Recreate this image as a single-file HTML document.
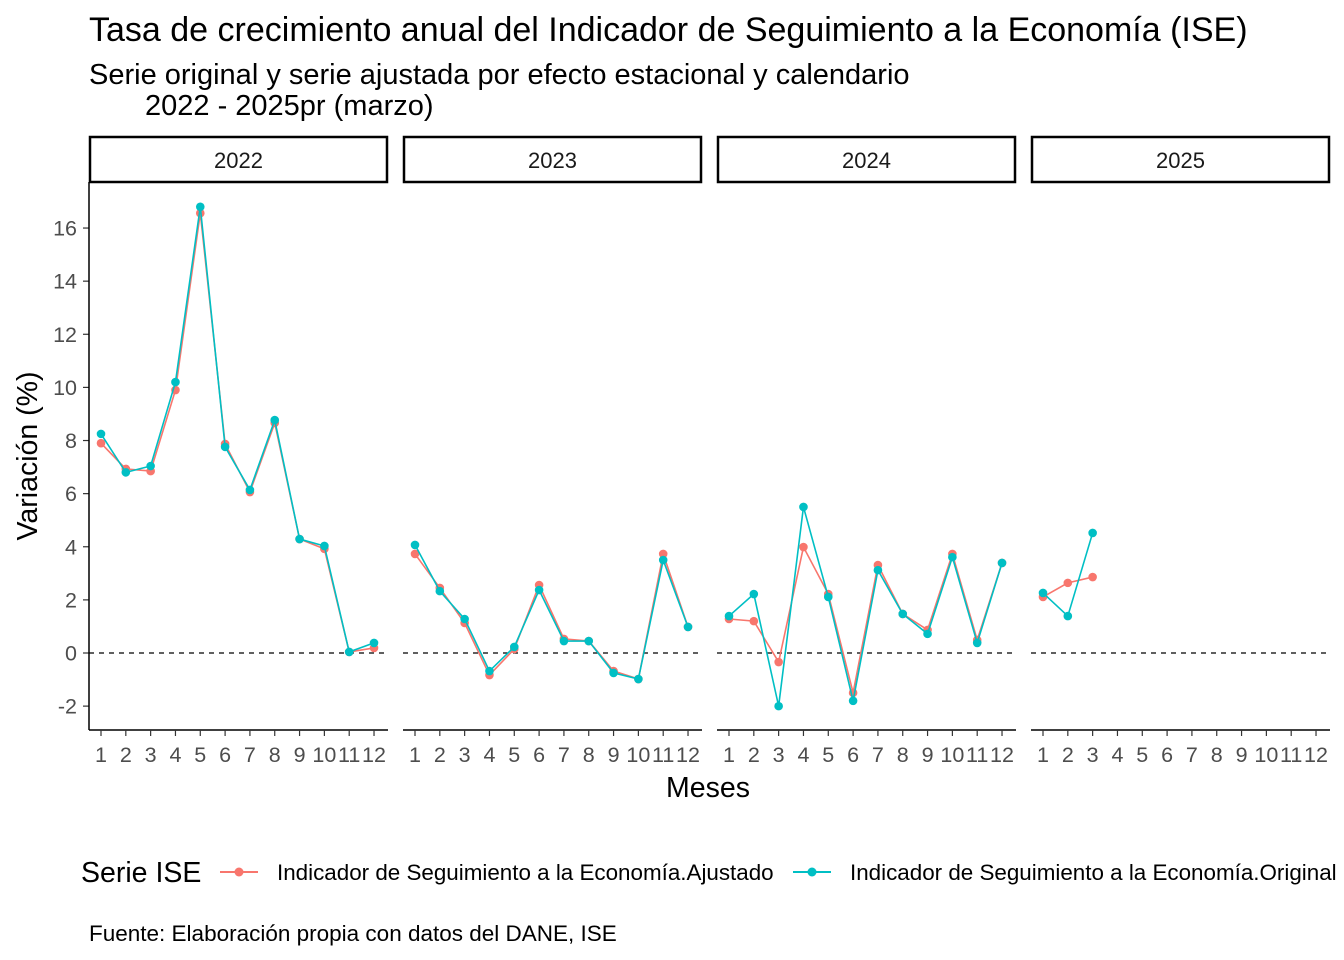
<!DOCTYPE html>
<html><head><meta charset="utf-8"><style>
body{margin:0;background:#fff}
svg{display:block;font-family:"Liberation Sans",sans-serif}
</style></head><body>
<svg id="chart" width="1344" height="960" xmlns="http://www.w3.org/2000/svg">
<text x="89" y="41" font-size="34" fill="#000">Tasa de crecimiento anual del Indicador de Seguimiento a la Economía (ISE)</text>
<text x="89" y="84" font-size="29" fill="#000">Serie original y serie ajustada por efecto estacional y calendario</text>
<text x="145" y="115" font-size="29" fill="#000">2022 - 2025pr (marzo)</text>
<text transform="translate(37,456) rotate(-90)" text-anchor="middle" font-size="28.5" fill="#000">Variación (%)</text>
<text x="708" y="797" text-anchor="middle" font-size="28.5" fill="#000">Meses</text>
<g>
<text x="81" y="882" font-size="28.5">Serie ISE</text>
<g>
<line x1="220" y1="872" x2="258" y2="872" stroke="#F8766D" stroke-width="2"/><circle cx="239" cy="872" r="4.5" fill="#F8766D"/>
<text x="277" y="880" font-size="22.4">Indicador de Seguimiento a la Economía.Ajustado</text></g>
<g>
<line x1="793" y1="872" x2="831" y2="872" stroke="#00BFC4" stroke-width="2"/><circle cx="812" cy="872" r="4.5" fill="#00BFC4"/>
<text x="850" y="880" font-size="22.4">Indicador de Seguimiento a la Economía.Original</text></g>
</g>
<text x="89" y="941" font-size="22.5">Fuente: Elaboración propia con datos del DANE, ISE</text>
<g id="plots"></g>
</svg>
<script>
const years = ["2022","2023","2024","2025"];
const months = [1,2,3,4,5,6,7,8,9,10,11,12];
const yTicks = [-2,0,2,4,6,8,10,12,14,16];
const ajustado2022 = [7.9,6.93,6.85,9.9,16.56,7.87,6.06,8.66,4.29,3.92,0.04,0.19];
const original2022 = [8.25,6.8,7.04,10.2,16.8,7.76,6.14,8.77,4.29,4.03,0.04,0.38];
const ajustado2023 = [3.73,2.45,1.13,-0.83,0.15,2.56,0.53,0.45,-0.68,-0.98,3.73,0.98];
const original2023 = [4.07,2.33,1.28,-0.68,0.23,2.37,0.45,0.45,-0.75,-0.98,3.5,0.98];
const ajustado2024 = [1.28,1.2,-0.34,3.99,2.22,-1.5,3.31,1.47,0.87,3.73,0.49,3.39];
const original2024 = [1.39,2.22,-2.0,5.5,2.11,-1.8,3.12,1.47,0.72,3.61,0.38,3.39];
const ajustado2025 = [2.11,2.64,2.86];
const original2025 = [2.26,1.39,4.52];
const adjSeries=[ajustado2022,ajustado2023,ajustado2024,ajustado2025];
const origSeries=[original2022,original2023,original2024,original2025];

const NS="http://www.w3.org/2000/svg";
const g=document.getElementById('plots');
function mk(tag,attrs,parent){const e=document.createElementNS(NS,tag);for(const k in attrs)e.setAttribute(k,attrs[k]);(parent||g).appendChild(e);return e;}
const panelLeft=[89,403,717,1031], panelW=299, plotTop=182, plotBottom=730;
const yS=v=>653-v*26.56;
function xS(p,m){return panelLeft[p]+12+(m-1)*24.82;}

yTicks.forEach(t=>{
  const tk=mk('line',{x1:83,x2:89,y1:yS(t),y2:yS(t),stroke:'#333','stroke-width':1.2});
  
  
  const lb=mk('text',{x:77,y:yS(t)+7.5,'text-anchor':'end','font-size':21.5,fill:'#4d4d4d'});
  lb.textContent=t;
  
  
});
const ya=mk('line',{x1:89,x2:89,y1:plotTop,y2:plotBottom,stroke:'#000','stroke-width':1.5});



years.forEach((yr,p)=>{
  const L=panelLeft[p];
  const pg=mk('g',{});
  
  
  const st=mk('rect',{x:L+1,y:137,width:panelW-2,height:45,fill:'#fff',stroke:'#000','stroke-width':2.5},pg);
  
  
  const sl=mk('text',{x:L+panelW/2,y:168,'text-anchor':'middle','font-size':22,fill:'#1a1a1a'},pg);
  sl.textContent=yr;
  
  
  const xa=mk('line',{x1:L,x2:L+panelW,y1:plotBottom,y2:plotBottom,stroke:'#000','stroke-width':1.5},pg);
  
  
  const zl=mk('line',{x1:L,x2:L+panelW,y1:yS(0),y2:yS(0),stroke:'#000','stroke-width':1.3,'stroke-dasharray':'5,5'},pg);
  
  
  months.forEach(m=>{
    const t=mk('line',{x1:xS(p,m),x2:xS(p,m),y1:plotBottom,y2:plotBottom+6,stroke:'#333','stroke-width':1.2},pg);
    
    
    const lb=mk('text',{x:xS(p,m),y:762,'text-anchor':'middle','font-size':21.5,fill:'#4d4d4d'},pg);
    lb.textContent=m;
    
    
  });
  [[adjSeries[p],'#F8766D','ajustado'],[origSeries[p],'#00BFC4','original']].forEach(([arr,c,n])=>{
    const pts=arr.map((v,i)=>xS(p,months[i])+','+yS(v)).join(' ');
    const pl=mk('polyline',{points:pts,fill:'none',stroke:c,'stroke-width':1.6},pg);
    
    
    arr.forEach((v,i)=>{
      const ci=mk('circle',{cx:xS(p,months[i]),cy:yS(v),r:4.3,fill:c},pg);
      
      
    });
  });
});
</script>
</body></html>
